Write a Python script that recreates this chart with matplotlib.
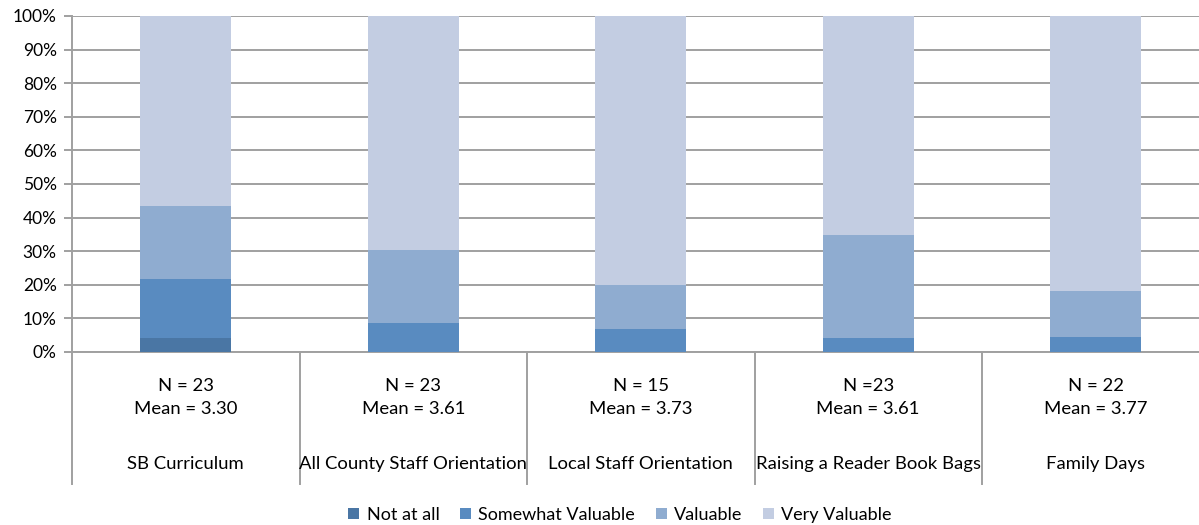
import matplotlib.pyplot as plt
import numpy as np

plt.rcParams['font.family'] = ['Lato', 'DejaVu Sans']

# Data
categories = ["SB Curriculum", "All County Staff Orientation", "Local Staff Orientation",
              "Raising a Reader Book Bags", "Family Days"]
n_labels = ["N = 23", "N = 23", "N = 15", "N =23", "N = 22"]
mean_labels = ["Mean = 3.30", "Mean = 3.61", "Mean = 3.73", "Mean = 3.61", "Mean = 3.77"]
series = ["Not at all", "Somewhat Valuable", "Valuable", "Very Valuable"]
not_at_all = [4.3, 0, 0, 0, 0]
somewhat = [17.4, 8.7, 6.7, 4.3, 4.5]
valuable = [21.7, 21.7, 13.3, 30.4, 13.6]
very = [56.6, 69.6, 80.0, 65.3, 81.9]
colors = ["#4A76A4", "#598BC0", "#8FACD0", "#C3CDE2"]

fig = plt.figure(figsize=(11.99, 5.25), dpi=100)
W, H = 1199, 525
x0, x1, ytop, ybot = 72, 1209.5, 16, 352
ax = fig.add_axes([x0 / W, (H - ybot) / H, (x1 - x0) / W, (ybot - ytop) / H])

x = np.arange(len(categories))
bottom = np.zeros(len(categories))
for vals, name, col in zip([not_at_all, somewhat, valuable, very], series, colors):
    ax.bar(x, vals, 0.4, bottom=bottom, color=col, label=name, zorder=3)
    bottom += np.array(vals)

ax.set_xlim(-0.5, len(categories) - 0.5)
ax.set_ylim(0, 100)
ax.set_yticks(range(0, 101, 10))
ax.set_yticklabels([f"{v}%" for v in range(0, 101, 10)], fontsize=12.5)
ax.yaxis.grid(True, color="#a0a0a0", linewidth=1.4, zorder=0)
ax.tick_params(axis="y", length=6, width=1.4, color="#a0a0a0", pad=5)
ax.tick_params(axis="x", length=0, labelbottom=False)
for s in ["top", "right"]:
    ax.spines[s].set_visible(False)
ax.spines["bottom"].set_color("#a0a0a0")
ax.spines["bottom"].set_linewidth(1.4)
ax.spines["left"].set_color("#a0a0a0")
ax.spines["left"].set_linewidth(1.4)

# category separators and labels below the axis
tr = ax.get_xaxis_transform()
ax_h = ybot - ytop
low = -(484 - ybot) / ax_h
for b in np.arange(-0.5, len(categories), 1.0):
    ax.plot([b, b], [0, low], transform=tr, color="#a0a0a0", lw=1.4, clip_on=False)
for i in range(len(categories)):
    ax.text(i, -(386 - ybot) / ax_h, n_labels[i], transform=tr, ha="center", va="center", fontsize=13.3)
    ax.text(i, -(409 - ybot) / ax_h, mean_labels[i], transform=tr, ha="center", va="center", fontsize=13.3)
    ax.text(i, -(464 - ybot) / ax_h, categories[i], transform=tr, ha="center", va="center", fontsize=13.3)

fig.legend(loc="center", bbox_to_anchor=(620 / W, 1 - 515 / H), ncol=4, frameon=False,
           fontsize=13, handlelength=0.6, handleheight=0.6, handletextpad=0.4, columnspacing=1.15)

fig.savefig("out.png", dpi=100)
